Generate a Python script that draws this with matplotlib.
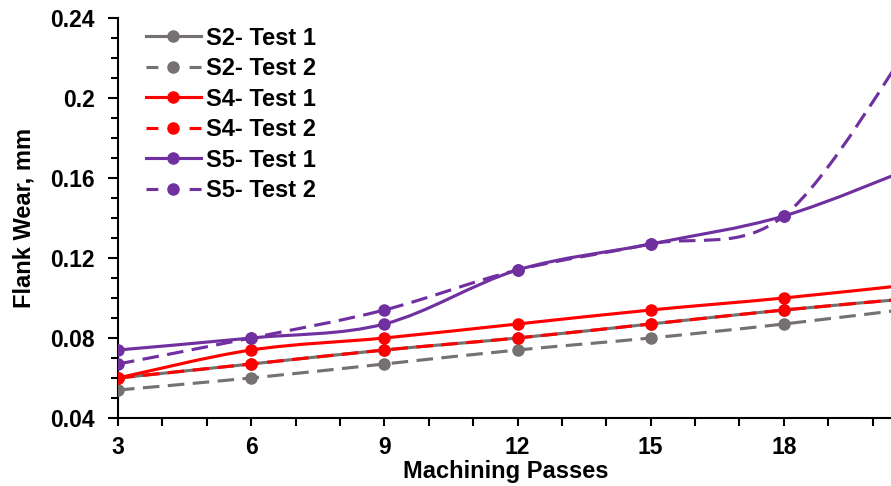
import numpy as np
import matplotlib.pyplot as plt
from matplotlib.path import Path
from matplotlib.patches import PathPatch
from matplotlib.lines import Line2D
from matplotlib.ticker import MultipleLocator

plt.rcParams['font.family'] = ['Liberation Sans', 'DejaVu Sans']
plt.rcParams['font.weight'] = 'bold'

passes = [3, 6, 9, 12, 15, 18, 21]
s2_test1 = [0.060, 0.067, 0.074, 0.080, 0.087, 0.094, 0.100]
s2_test2 = [0.054, 0.060, 0.067, 0.074, 0.080, 0.087, 0.095]
s4_test1 = [0.060, 0.074, 0.080, 0.087, 0.094, 0.100, 0.107]
s4_test2 = [0.060, 0.067, 0.074, 0.080, 0.087, 0.094, 0.100]
s5_test1 = [0.074, 0.080, 0.087, 0.114, 0.127, 0.141, 0.166]
s5_test2 = [0.067, 0.080, 0.094, 0.114, 0.127, 0.141, 0.232]

labels = ['S2- Test 1', 'S2- Test 2', 'S4- Test 1', 'S4- Test 2', 'S5- Test 1', 'S5- Test 2']
series = [s2_test1, s2_test2, s4_test1, s4_test2, s5_test1, s5_test2]
colors = ['#767171', '#767171', '#FF0000', '#FF0000', '#7030A0', '#7030A0']
dashed = [False, True, False, True, False, True]


# smooth line like excel (bezier through the points)
def smooth_path(x, y):
    p = np.column_stack([x, y]).astype(float)
    n = len(p)
    verts = [p[0]]
    codes = [Path.MOVETO]
    for i in range(n - 1):
        p0 = p[i - 1] if i > 0 else p[i]
        p3 = p[i + 2] if i + 2 < n else p[i + 1]
        c1 = p[i] + (p[i + 1] - p0) / 6
        c2 = p[i + 1] - (p3 - p[i]) / 6
        verts += [c1, c2, p[i + 1]]
        codes += [Path.CURVE4] * 3
    return Path(verts, codes)


fig = plt.figure(figsize=(8.91, 4.86), dpi=100)
ax = fig.add_axes([118 / 891, 68 / 486, 799 / 891, 400 / 486])

lw = 2.25
handles = []
for y, c, d, lab in zip(series, colors, dashed, labels):
    ls = (0, (5.3, 2.7)) if d else '-'
    patch = PathPatch(smooth_path(passes, y), facecolor='none', edgecolor=c,
                      lw=lw, linestyle=ls, capstyle='butt')
    ax.add_patch(patch)
    ax.plot(passes, y, 'o', color=c, ms=8, zorder=3)
    h = Line2D([], [], color=c, lw=lw, marker='o', ms=8, label=lab)
    if d:
        h.set_dashes((3.8, 10))
    handles.append(h)

ax.set_xlim(3, 21)
ax.set_ylim(0.04, 0.24)
ax.set_xticks(passes)
ax.set_xticklabels(['3', '6', '9', '12', '15', '18', ''])
ax.xaxis.set_minor_locator(MultipleLocator(1))
ax.set_yticks([0.04, 0.08, 0.12, 0.16, 0.2, 0.24])
ax.set_yticklabels(['0.04', '0.08', '0.12', '0.16', '0.2', '0.24'])
ax.yaxis.set_minor_locator(MultipleLocator(0.01))

for s in ['top', 'right']:
    ax.spines[s].set_visible(False)
for s in ['left', 'bottom']:
    ax.spines[s].set_linewidth(1.5)
    ax.spines[s].set_color('black')
ax.tick_params(axis='x', which='both', length=6, width=1.5, labelsize=16.5, pad=7)
ax.tick_params(axis='y', which='major', length=7, width=1.5, labelsize=16.5, pad=10)
ax.tick_params(axis='y', which='minor', length=5, width=1.5)

ax.set_xlabel('Machining Passes', fontsize=17, fontweight='bold', va='center')
ax.xaxis.set_label_coords((506 - 118) / 799, -(471 - 418) / 400)
ax.set_ylabel('Flank Wear, mm', fontsize=17, fontweight='bold', va='center')
ax.yaxis.set_label_coords((24 - 118) / 799, 0.5)

ax.legend(handles=handles, loc='upper left', bbox_to_anchor=(0.014, 1.02), frameon=False,
          fontsize=17, handlelength=2.35, handletextpad=0.2, labelspacing=0.32,
          borderpad=0.2)

fig.savefig('out.png', dpi=100)
